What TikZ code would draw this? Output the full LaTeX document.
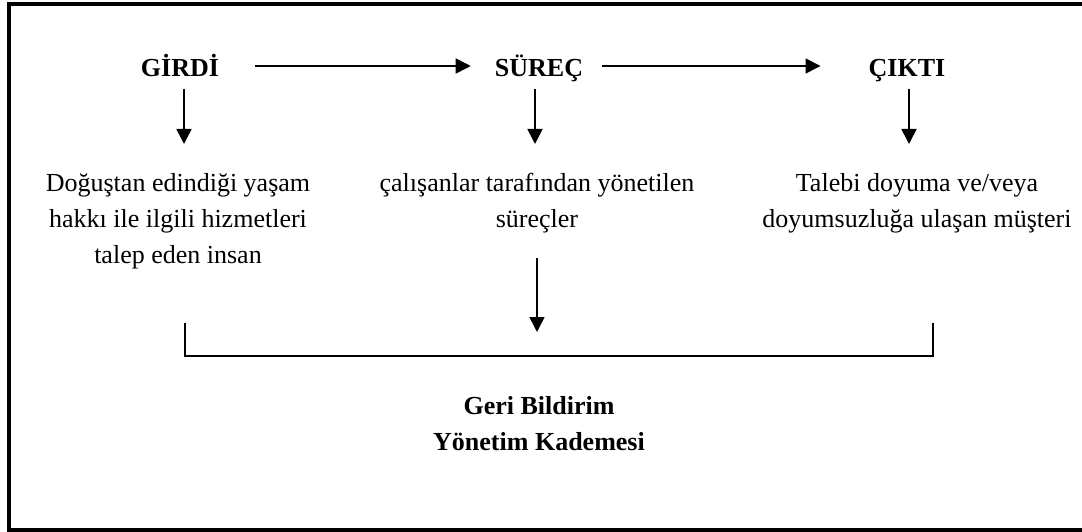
\documentclass[tikz,border=0pt]{standalone}
\usepackage{fontspec}
\setmainfont{Liberation Serif}
\usetikzlibrary{arrows.meta}

\tikzset{
  baslik/.style={font=\fontsize{26}{30}\selectfont\bfseries, inner sep=0pt, anchor=base},
  metin/.style={font=\fontsize{26}{36}\selectfont, align=center, inner sep=0pt, anchor=north},
  ok/.style={line width=1.6pt, -{Triangle[width=15pt,length=15pt]}},
}

\begin{document}
\begin{tikzpicture}[x=1pt,y=-1pt]
        \useasboundingbox (0,0) rectangle (1082,532);
        \draw[line width=4pt] (1082,4) -- (9,4) -- (9,530) -- (1082,530);

        % girdi - surec - cikti
        \node[baslik] (girdi) at (180,77) {GİRDİ};
        \node[baslik] (surec) at (539,77) {SÜREÇ};
        \node[baslik] (cikti) at (907,77) {ÇIKTI};

        \node[metin] (insan) at (178,173) {Doğuştan edindiği yaşam\\hakkı ile ilgili hizmetleri\\talep eden insan};
        \node[metin] (calisan) at (537,173) {çalışanlar tarafından yönetilen\\süreçler};
        \node[metin] (musteri) at (917,173) {Talebi doyuma ve/veya\\doyumsuzluğa ulaşan müşteri};

        \draw[ok, shorten <=36pt, shorten >=24pt] ([yshift=11pt]girdi.base east) -- ([yshift=11pt]surec.base west);
        \draw[ok, shorten <=19pt, shorten >=48pt] ([yshift=11pt]surec.base east) -- ([yshift=11pt]cikti.base west);

        \draw[ok, shorten <=12pt, shorten >=29pt] ([xshift=4pt]girdi.base) -- ([xshift=4pt]girdi.base |- insan.north);
        \draw[ok, shorten <=12pt, shorten >=29pt] ([xshift=-4pt]surec.base) -- ([xshift=-4pt]surec.base |- calisan.north);
        \draw[ok, shorten <=12pt, shorten >=29pt] ([xshift=2pt]cikti.base) -- ([xshift=2pt]cikti.base |- musteri.north);

        % geri bildirim
        \coordinate (sol) at (185,323);
        \coordinate (sag) at (933,323);
        \draw[line width=1.5pt] (sol) |- (sag |- 0,356) -- (sag);
        \draw[ok, shorten <=25pt] (calisan.south) -- (calisan.south |- 0,332);

        \node[metin, font=\fontsize{26}{36}\selectfont\bfseries] (geri) at (539,396) {Geri Bildirim\\Yönetim Kademesi};
\end{tikzpicture}
\end{document}
